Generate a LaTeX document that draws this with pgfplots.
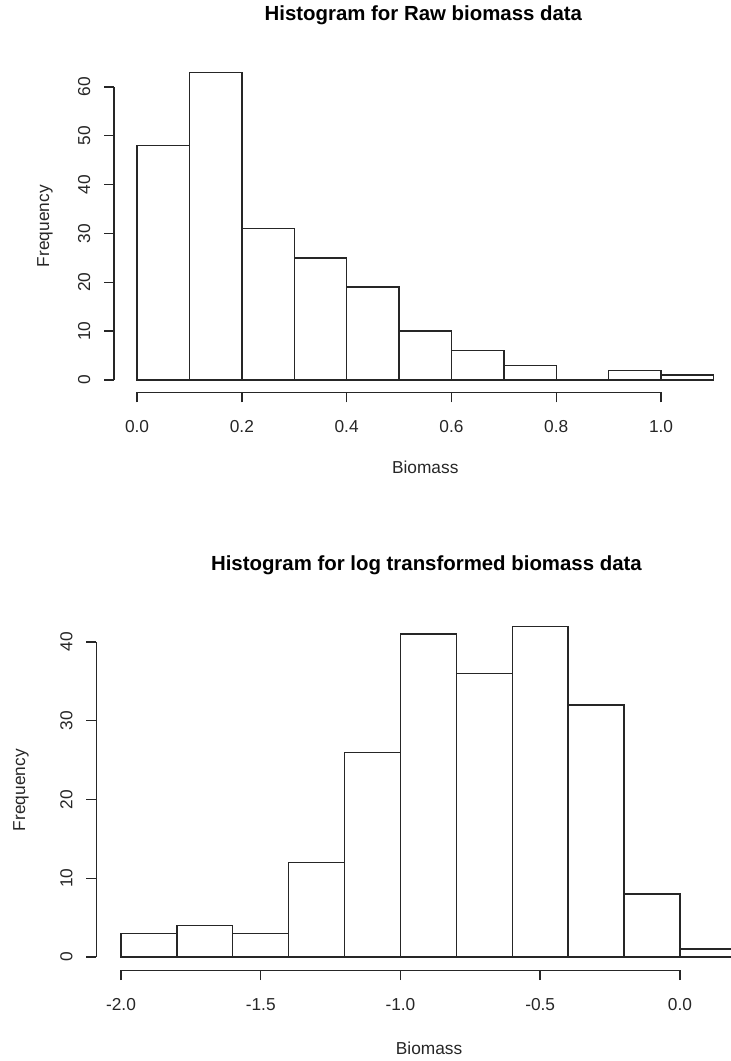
\documentclass[border=0pt]{standalone}
\usepackage{fontspec}
\setmainfont{Liberation Sans}
\usepackage{pgfplots}
\pgfplotsset{compat=1.18}
\pgfplotsset{rstyle/.style={
  scale only axis, clip=false,
  axis line style={draw=none},
  tick align=outside, xtick pos=lower, ytick pos=left,
  major tick length=10pt,
  tick style={black!85, line width=1.4pt},
  ticklabel style={font=\fontsize{17.3}{20}\selectfont, text=black!85},
  xticklabel style={anchor=base, yshift=-30pt},
  yticklabel style={rotate=90, anchor=base, yshift=14pt},
  label style={font=\fontsize{17.3}{20}\selectfont, text=black!85},
  title style={font=\fontsize{20.4}{24}\selectfont\bfseries, anchor=base},
}}
\begin{document}
\begin{tikzpicture}[x=1pt,y=1pt]
\useasboundingbox (0,0) rectangle (731,1061);
% Top histogram
\begin{axis}[rstyle,
  at={(114pt,668.7pt)}, anchor=south west,
  width=622.5pt, height=332.3pt,
  xmin=-0.044, xmax=1.144, ymin=-2.52, ymax=65.52,
  xtick={0,0.2,0.4,0.6,0.8,1.0},
  xticklabels={0.0,0.2,0.4,0.6,0.8,1.0},
  ytick={0,10,20,30,40,50,60},
  yticklabels={0,10,20,30,40,50,60},
  title={Histogram for Raw biomass data},
  title style={at={(axis description cs:0.497,1.0993)}},
  xlabel={Biomass},
  xlabel style={at={(axis description cs:0.5,-0.243)}, anchor=base},
  ylabel={Frequency},
  ylabel style={at={(axis description cs:-0.1044,0.5)}, rotate=0, anchor=base},
]
\addplot[ybar interval, draw=black!85, fill=white, line width=1.4pt] coordinates {
 (0.0,48) (0.1,63) (0.2,31) (0.3,25) (0.4,19) (0.5,10)
 (0.6,6) (0.7,3) (0.8,0) (0.9,2) (1.0,1) (1.1,1)};
\draw[black!85, line width=1.4pt] (axis cs:0,-2.52) -- (axis cs:1.0,-2.52);
\draw[black!85, line width=1.4pt] (axis cs:-0.044,0) -- (axis cs:-0.044,60);
\end{axis}
% Bottom histogram
\begin{axis}[rstyle,
  at={(96.4pt,90.8pt)}, anchor=south west,
  width=664pt, height=357.2pt,
  xmin=-2.088, xmax=0.288, ymin=-1.68, ymax=43.68,
  xtick={-2.0,-1.5,-1.0,-0.5,0.0},
  xticklabels={-2.0,-1.5,-1.0,-0.5,0.0},
  ytick={0,10,20,30,40},
  yticklabels={0,10,20,30,40},
  title={Histogram for log transformed biomass data},
  title style={at={(axis description cs:0.497,1.1008)}},
  xlabel={Biomass},
  xlabel style={at={(axis description cs:0.501,-0.2374)}, anchor=base},
  ylabel={Frequency},
  ylabel style={at={(axis description cs:-0.1075,0.504)}, rotate=0, anchor=base},
]
\addplot[ybar interval, draw=black!85, fill=white, line width=1.4pt] coordinates {
 (-2.0,3) (-1.8,4) (-1.6,3) (-1.4,12) (-1.2,26) (-1.0,41)
 (-0.8,36) (-0.6,42) (-0.4,32) (-0.2,8) (0.0,1) (0.2,1)};
\draw[black!85, line width=1.4pt] (axis cs:-2.0,-1.68) -- (axis cs:0.0,-1.68);
\draw[black!85, line width=1.4pt] (axis cs:-2.088,0) -- (axis cs:-2.088,40);
\end{axis}
\end{tikzpicture}
\end{document}
